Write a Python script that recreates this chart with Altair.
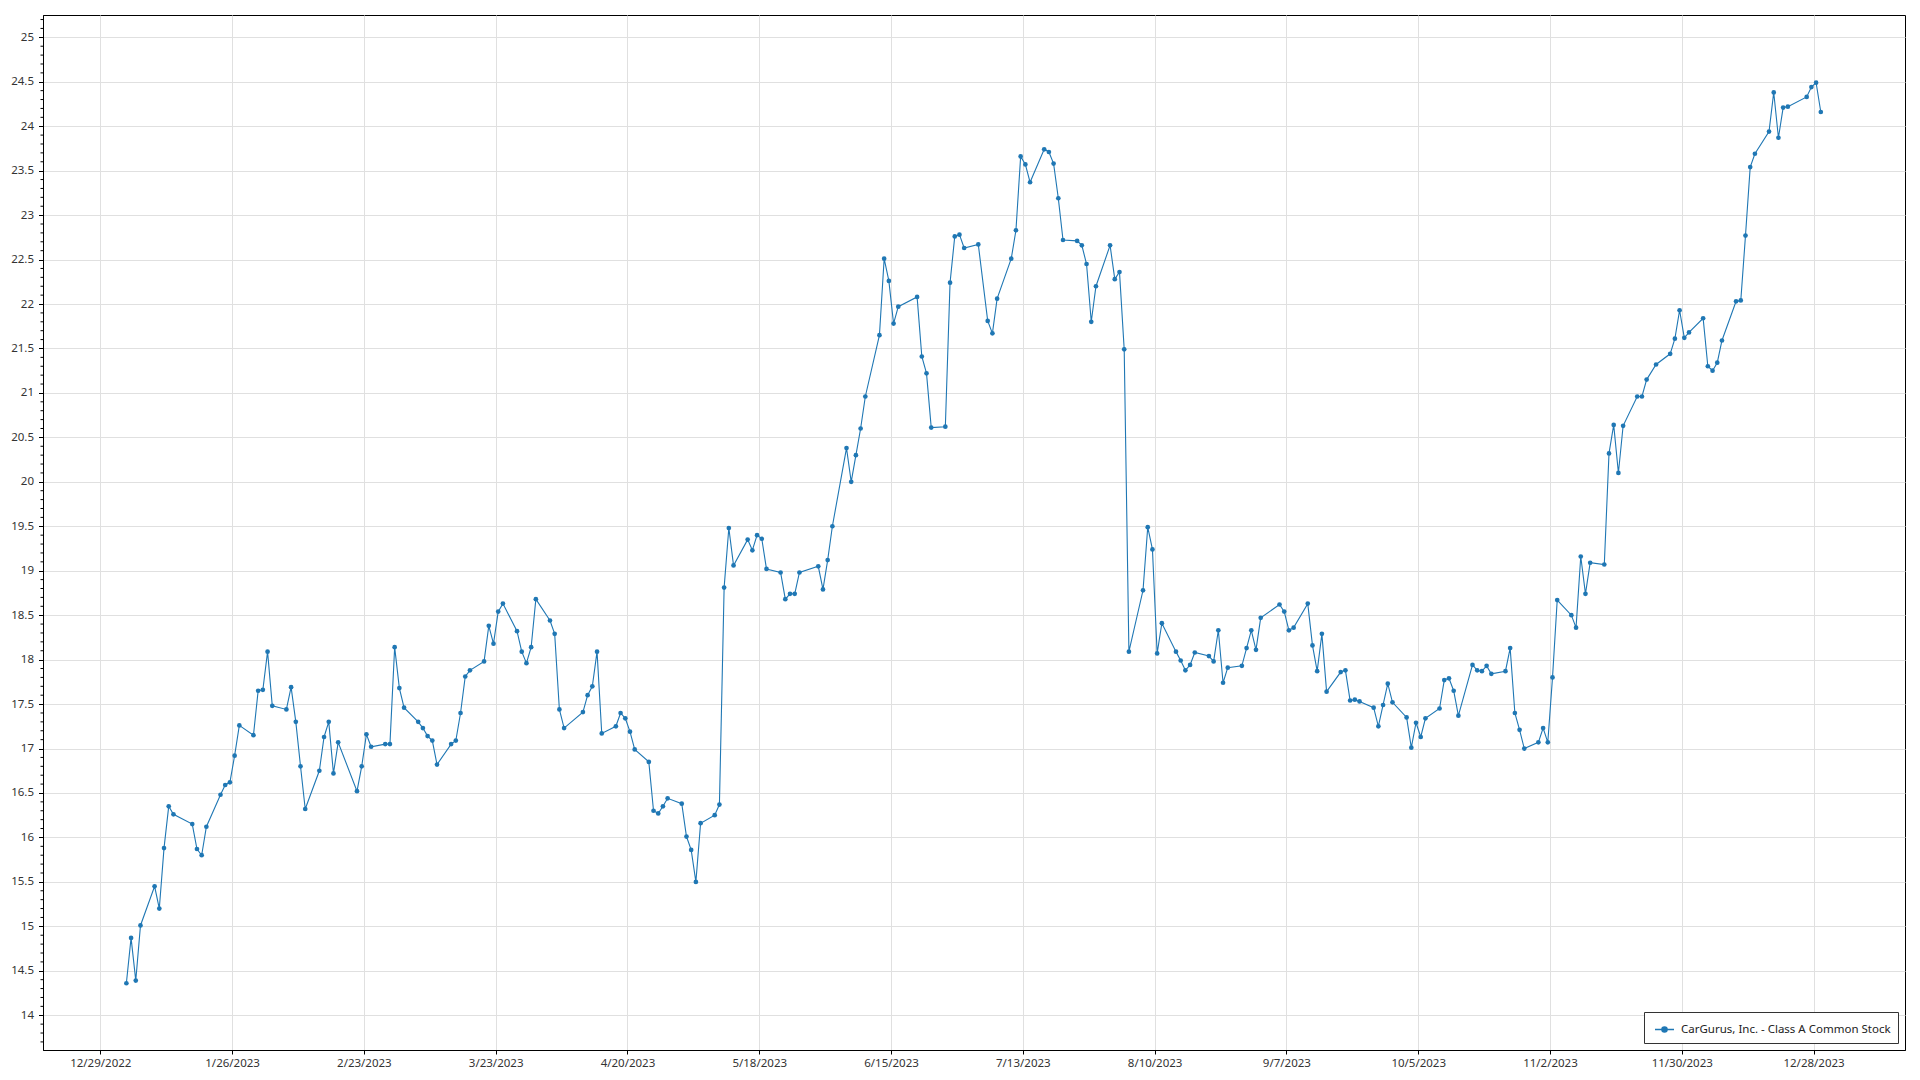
import altair as alt
import pandas as pd
from datetime import datetime, timezone, timedelta

SERIES = "CarGurus, Inc. - Class A Common Stock"
COLOR = "#1f77b4"
FONT = "Noto Sans"

# trading days (day of month) for each month of 2023
jan_days = [3, 4, 5, 6, 9, 10, 11, 12, 13, 17, 18, 19, 20, 23, 24, 25, 26, 27, 30, 31]
feb_days = [1, 2, 3, 6, 7, 8, 9, 10, 13, 14, 15, 16, 17, 21, 22, 23, 24, 27, 28]
mar_days = [1, 2, 3, 6, 7, 8, 9, 10, 13, 14, 15, 16, 17, 20, 21, 22, 23, 24, 27, 28, 29, 30, 31]
apr_days = [3, 4, 5, 6, 10, 11, 12, 13, 14, 17, 18, 19, 20, 21, 24, 25, 26, 27, 28]
may_days = [1, 2, 3, 4, 5, 8, 9, 10, 11, 12, 15, 16, 17, 18, 19, 22, 23, 24, 25, 26, 30, 31]
jun_days = [1, 2, 5, 6, 7, 8, 9, 12, 13, 14, 15, 16, 20, 21, 22, 23, 26, 27, 28, 29, 30]
jul_days = [3, 5, 6, 7, 10, 11, 12, 13, 14, 17, 18, 19, 20, 21, 24, 25, 26, 27, 28, 31]
aug_days = [1, 2, 3, 4, 7, 8, 9, 10, 11, 14, 15, 16, 17, 18, 21, 22, 23, 24, 25, 28, 29, 30, 31]
sep_days = [1, 5, 6, 7, 8, 11, 12, 13, 14, 15, 18, 19, 20, 21, 22, 25, 26, 27, 28, 29]
oct_days = [2, 3, 4, 5, 6, 9, 10, 11, 12, 13, 16, 17, 18, 19, 20, 23, 24, 25, 26, 27, 30, 31]
nov_days = [1, 2, 3, 6, 7, 8, 9, 10, 13, 14, 15, 16, 17, 20, 21, 22, 24, 27, 28, 29, 30]
dec_days = [1, 4, 5, 6, 7, 8, 11, 12, 13, 14, 15, 18, 19, 20, 21, 22, 26, 27, 28, 29]

# closing prices
jan_close = [14.36, 14.87, 14.39, 15.01, 15.45, 15.20, 15.88, 16.35, 16.26, 16.15, 15.87, 15.80, 16.12, 16.48, 16.59, 16.62, 16.92, 17.26, 17.15, 17.65]
feb_close = [17.66, 18.09, 17.48, 17.44, 17.69, 17.30, 16.80, 16.32, 16.75, 17.13, 17.30, 16.72, 17.07, 16.52, 16.80, 17.16, 17.02, 17.05, 17.05]
mar_close = [18.14, 17.68, 17.46, 17.30, 17.23, 17.14, 17.09, 16.82, 17.05, 17.09, 17.40, 17.81, 17.88, 17.98, 18.38, 18.18, 18.54, 18.63, 18.32, 18.09, 17.96, 18.14, 18.68]
apr_close = [18.44, 18.29, 17.44, 17.23, 17.41, 17.60, 17.70, 18.09, 17.17, 17.25, 17.40, 17.34, 17.19, 16.99, 16.85, 16.30, 16.27, 16.35, 16.44]
may_close = [16.38, 16.01, 15.86, 15.50, 16.16, 16.25, 16.37, 18.81, 19.48, 19.06, 19.35, 19.23, 19.40, 19.36, 19.02, 18.98, 18.68, 18.74, 18.74, 18.98, 19.05, 18.79]
jun_close = [19.12, 19.50, 20.38, 20.00, 20.30, 20.60, 20.96, 21.65, 22.51, 22.26, 21.78, 21.97, 22.08, 21.41, 21.22, 20.61, 20.62, 22.24, 22.76, 22.78, 22.63]
jul_close = [22.67, 21.81, 21.67, 22.06, 22.51, 22.83, 23.66, 23.57, 23.37, 23.74, 23.71, 23.58, 23.19, 22.72, 22.71, 22.66, 22.45, 21.80, 22.20, 22.66]
aug_close = [22.28, 22.36, 21.49, 18.09, 18.78, 19.49, 19.24, 18.07, 18.41, 18.09, 17.99, 17.88, 17.94, 18.08, 18.04, 17.98, 18.33, 17.74, 17.91, 17.93, 18.13, 18.33, 18.11]
sep_close = [18.47, 18.62, 18.54, 18.33, 18.36, 18.63, 18.16, 17.87, 18.29, 17.64, 17.86, 17.88, 17.54, 17.55, 17.53, 17.46, 17.25, 17.49, 17.73, 17.52]
oct_close = [17.35, 17.01, 17.29, 17.13, 17.34, 17.45, 17.77, 17.79, 17.65, 17.37, 17.94, 17.88, 17.87, 17.93, 17.84, 17.87, 18.13, 17.40, 17.21, 17.00, 17.07, 17.23]
nov_close = [17.07, 17.80, 18.67, 18.50, 18.36, 19.16, 18.74, 19.09, 19.07, 20.32, 20.64, 20.10, 20.63, 20.96, 20.96, 21.15, 21.32, 21.44, 21.61, 21.93, 21.62]
dec_close = [21.68, 21.84, 21.30, 21.25, 21.34, 21.59, 22.03, 22.04, 22.77, 23.54, 23.69, 23.94, 24.38, 23.87, 24.21, 24.22, 24.33, 24.44, 24.49, 24.16]

months = [
    (1, jan_days, jan_close), (2, feb_days, feb_close), (3, mar_days, mar_close),
    (4, apr_days, apr_close), (5, may_days, may_close), (6, jun_days, jun_close),
    (7, jul_days, jul_close), (8, aug_days, aug_close), (9, sep_days, sep_close),
    (10, oct_days, oct_close), (11, nov_days, nov_close), (12, dec_days, dec_close),
]


def ms(dt):
    return int(dt.timestamp() * 1000)


rows = []
for m, ds, cs in months:
    for d, c in zip(ds, cs):
        rows.append({"t": ms(datetime(2023, m, d, 13, tzinfo=timezone.utc)), "close": c, "series": SERIES})
df = pd.DataFrame(rows)

start_tick = datetime(2022, 12, 29, tzinfo=timezone.utc)
x_ticks = [ms(start_tick + timedelta(days=28 * k)) for k in range(14)]
x_domain = [ms(start_tick - timedelta(days=12.17)), ms(start_tick - timedelta(days=12.17) + timedelta(days=395.6))]

y_major = [14 + 0.5 * i for i in range(23)]
y_minor = [round(13.7 + 0.1 * i, 1) for i in range(116)]
y_minor = [v for v in y_minor if abs(v * 2 - round(v * 2)) > 1e-6]
minor_df = pd.DataFrame({"v": y_minor})

x_enc = alt.X(
    "t:T",
    scale=alt.Scale(type="utc", domain=x_domain, nice=False),
    axis=alt.Axis(
        values=x_ticks, labelExpr="utcFormat(datum.value, '%-m/%-d/%Y')", title=None,
        tickSize=4, labelPadding=3, grid=True, gridColor="#e0e0e0",
        domainColor="black", tickColor="black", labelFontSize=11.5,
        labelColor="#333333", labelFont=FONT, labelFlush=False, labelOverlap=False,
    ),
)
y_scale = alt.Scale(domain=[13.609, 25.251], nice=False, zero=False)
y_axis = alt.Axis(
    values=y_major, format="~g", title=None, tickSize=4.5, labelPadding=5,
    grid=True, gridColor="#e0e0e0", domainColor="black", tickColor="black",
    labelFontSize=11.5, labelColor="#333333", labelFont=FONT,
    labelFlush=False, labelOverlap=False,
)
y_enc = alt.Y("close:Q", scale=y_scale, axis=y_axis)

legend = alt.Legend(
    title=None, orient="bottom-right", offset=7, padding=7,
    fillColor="white", strokeColor="#333333", labelLimit=500,
    labelFont=FONT, labelFontSize=11.5, labelColor="#222222", labelOffset=6,
    symbolType="M-1,0L1,0M-0.27,0A0.27,0.27,0,1,0,0.27,0A0.27,0.27,0,1,0,-0.27,0",
    symbolSize=361, symbolStrokeWidth=1.5, symbolFillColor=COLOR, symbolStrokeColor=COLOR,
    symbolOffset=3,
)
color_enc = alt.Color("series:N", scale=alt.Scale(range=[COLOR]), legend=legend)

line = alt.Chart(df).mark_line(strokeWidth=1.1).encode(x=x_enc, y=y_enc, color=color_enc)
pts = alt.Chart(df).mark_circle(size=22, opacity=1).encode(x=x_enc, y=y_enc, color=color_enc)
minor = alt.Chart(minor_df).mark_rule(color="black", strokeWidth=1).encode(
    y=alt.Y("v:Q", scale=y_scale, axis=y_axis),
    x=alt.value(-2.5),
    x2=alt.value(0),
)

chart = alt.layer(line, pts, minor).properties(
    width=1862, height=1035,
    autosize=alt.AutoSizeParams(type="none"),
    padding={"left": 35, "top": 7, "right": 7, "bottom": 22},
).configure(
    font=FONT, background="white",
    view=alt.ViewConfig(stroke="black", strokeWidth=1),
)

chart.save("out.html", embed_options={"renderer": "svg", "actions": False})
